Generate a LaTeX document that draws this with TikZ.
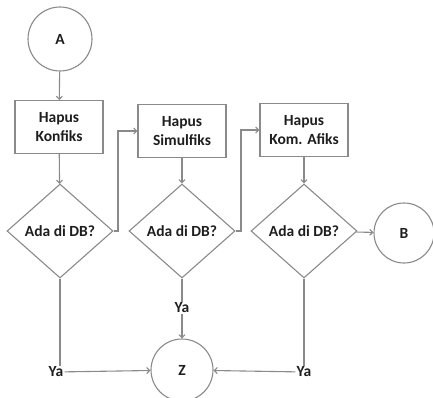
\documentclass[tikz,border=0pt]{standalone}
\usepackage{fontspec}
\setmainfont{Carlito}
\usetikzlibrary{shapes.geometric,arrows.meta}
\definecolor{ln}{HTML}{8A8A8A}
\definecolor{tx}{HTML}{1E1E1E}
\tikzset{
  base/.style={draw=ln,line width=1.1pt,text=tx,font=\fontsize{15.5}{18.5}\selectfont\bfseries,align=center},
  circ/.style={base,circle,minimum size=64pt,inner sep=0pt},
  procbox/.style={base,rectangle,minimum width=88pt,minimum height=53pt,inner sep=0pt},
  decide/.style={base,diamond,aspect=1.13,minimum width=106pt,minimum height=94pt,inner sep=0pt},
  lbl/.style={text=tx,font=\fontsize{15.5}{18.5}\selectfont\bfseries,inner sep=1pt},
  conn/.style={draw=ln,line width=1.1pt},
  arr/.style={conn,-{Straight Barb[length=3pt,width=6pt]}}
}
\begin{document}
\begin{tikzpicture}[x=1pt,y=-1pt]
\useasboundingbox (0,0) rectangle (433,398);
\clip (0,0) rectangle (433,398);
\node[circ] (A) at (60,39) {A};
\node[procbox] (K1) at (59,127) {Hapus\\Konfiks};
\node[procbox] (S) at (182,131) {Hapus\\Simulfiks};
\node[procbox] (KA) at (304,130) {Hapus\\Kom. Afiks};
\node[decide] (D1) at (60,231) {Ada di DB?};
\node[decide] (D2) at (182,231) {Ada di DB?};
\node[decide] (D3) at (304,231) {Ada di DB?};
\node[circ,minimum size=60pt] (B) at (404,233) {B};
\node[circ,minimum size=62pt] (Z) at (182,370) {Z};
\node[lbl] (Y1) at (56,372) {Ya};
\node[lbl] (Y2) at (182,308) {Ya};
\node[lbl] (Y3) at (304,372) {Ya};
\coordinate (c1) at (118,231);
\coordinate (c2) at (241,231);
\draw[arr] (A) -- (K1);
\draw[arr] (K1) -- (D1);
\draw[arr] (S) -- (D2);
\draw[arr] (KA) -- (D3);
\draw[arr] (D1.east) -- (c1) |- (S.west);
\draw[arr] (D2.east) -- (c2) |- (KA.west);
\draw[arr] (D3) -- (B);
\draw[conn] (D1.south) -- (D1.south |- Y1.north);
\draw[arr] (Y1) -- (Z);
\draw[conn] (D2.south) -- (Y2);
\draw[arr] (Y2) -- (Z);
\draw[conn] (D3.south) -- (Y3);
\draw[arr] (Y3) -- (Z);
\end{tikzpicture}
\end{document}
